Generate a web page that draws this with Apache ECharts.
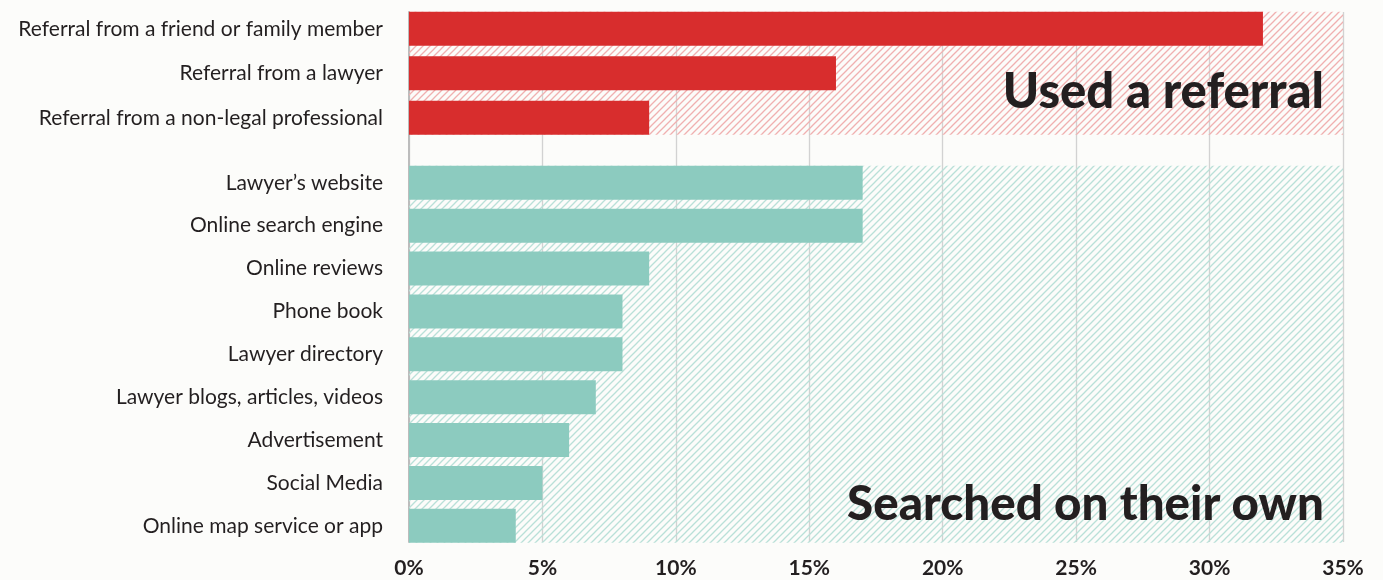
<!DOCTYPE html>
<html>
<head>
<meta charset="utf-8">
<script src="https://cdn.jsdelivr.net/npm/echarts@6/dist/echarts.min.js"></script>
<style>
  html, body { margin: 0; padding: 0; background: #fcfcfa; }
  #chart { width: 1383px; height: 580px; }
</style>
</head>
<body>
<div id="chart"></div>
<script>
// data
const referralLabels = [
  'Referral from a friend or family member',
  'Referral from a lawyer',
  'Referral from a non-legal professional'
];
const referralValues = [32, 16, 9];

const searchLabels = [
  'Lawyer\u2019s website',
  'Online search engine',
  'Online reviews',
  'Phone book',
  'Lawyer directory',
  'Lawyer blogs, articles, videos',
  'Advertisement',
  'Social Media',
  'Online map service or app'
];
const searchValues = [17, 17, 9, 8, 8, 7, 6, 5, 4];

const groupTitles = ['Used a referral', 'Searched on their own'];
const xMax = 35, xStep = 5;

const RED = '#d82d2d', TEAL = '#8ccbbf';
const BAR_W = 34;

// diagonal hatch tile
function hatch(color) {
  const s = 7;
  const c = document.createElement('canvas');
  c.width = s; c.height = s;
  const ctx = c.getContext('2d');
  ctx.strokeStyle = color;
  ctx.lineWidth = 1.3;
  ctx.beginPath();
  ctx.moveTo(0, s); ctx.lineTo(s, 0);
  ctx.moveTo(-1, 1); ctx.lineTo(1, -1);
  ctx.moveTo(s - 1, s + 1); ctx.lineTo(s + 1, s - 1);
  ctx.stroke();
  return { image: c, repeat: 'repeat' };
}

function hatchSeries(idx, cats, color) {
  const pat = hatch(color);
  return {
    type: 'custom',
    xAxisIndex: idx, yAxisIndex: idx,
    z: 1,
    silent: true,
    data: [[0, 0]],
    renderItem: function (params, api) {
      const a = api.coord([0, 0]);
      const b = api.coord([xMax, cats.length - 1]);
      const h = BAR_W / 2;
      return {
        type: 'rect',
        shape: { x: a[0], y: a[1] - h, width: b[0] - a[0], height: b[1] - a[1] + 2 * h },
        style: { fill: pat }
      };
    }
  };
}

const chart = echarts.init(document.getElementById('chart'));
const catAxis = {
  type: 'category',
  inverse: true,
  axisLine: { show: false },
  axisTick: { show: false },
  axisLabel: {
    fontFamily: 'Lato', fontSize: 21, color: '#231f20', margin: 26,
    padding: [5, 0, 0, 0]
  }
};
const hiddenX = { type: 'value', min: 0, max: xMax, interval: xStep, show: false };
const titleFont = { fontFamily: 'Lato', fontSize: 49, fontWeight: 900, color: '#231f20' };

chart.setOption({
  backgroundColor: '#fcfcfa',
  animation: false,
  title: [
    { text: groupTitles[0], right: 59, top: 68, padding: 0, textStyle: titleFont },
    { text: groupTitles[1], right: 59, top: 481, padding: 0,
      textStyle: Object.assign({}, titleFont, { fontSize: 47.5 }) }
  ],
  grid: [
    { left: 409, right: 40, top: 12, bottom: 38 },            // frame: gridlines + x labels
    { left: 409, right: 40, top: 6.6, height: 133.5 },        // referral
    { left: 409, right: 40, top: 161.4, height: 385.9 }       // searched
  ],
  xAxis: [
    {
      gridIndex: 0, type: 'value', min: 0, max: xMax, interval: xStep,
      axisLine: { show: false }, axisTick: { show: false },
      splitLine: { show: true, lineStyle: { color: '#d2d2d2', width: 1.3 } },
      axisLabel: {
        formatter: '{value}%', fontFamily: 'Lato', fontWeight: 'bold',
        fontSize: 21, color: '#231f20', margin: 16
      }
    },
    Object.assign({ gridIndex: 1 }, hiddenX),
    Object.assign({ gridIndex: 2 }, hiddenX)
  ],
  yAxis: [
    {
      gridIndex: 0, type: 'value', min: 0, max: 1,
      axisLine: { show: true, lineStyle: { color: '#bcbcbc', width: 2 } },
      axisTick: { show: false }, axisLabel: { show: false }, splitLine: { show: false }
    },
    Object.assign({ gridIndex: 1, data: referralLabels }, catAxis),
    Object.assign({ gridIndex: 2, data: searchLabels }, catAxis)
  ],
  series: [
    hatchSeries(1, referralLabels, '#f0b0b0'),
    hatchSeries(2, searchLabels, '#b9e0d8'),
    {
      type: 'bar', xAxisIndex: 1, yAxisIndex: 1, z: 2,
      data: referralValues, barWidth: BAR_W,
      itemStyle: { color: RED }
    },
    {
      type: 'bar', xAxisIndex: 2, yAxisIndex: 2, z: 2,
      data: searchValues, barWidth: BAR_W,
      itemStyle: { color: TEAL }
    }
  ]
});
</script>
</body>
</html>
